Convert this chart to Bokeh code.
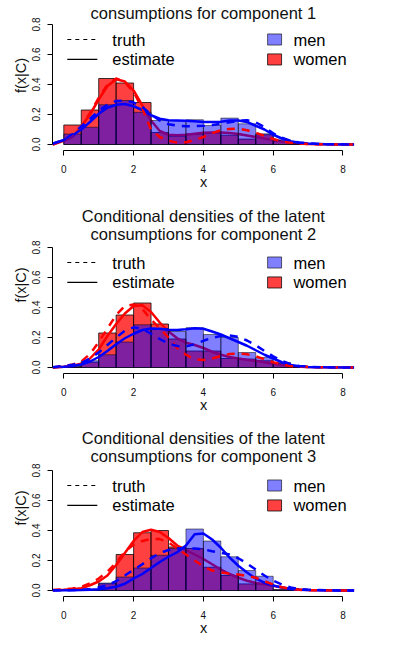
from bokeh.plotting import figure
from bokeh.layouts import column
from bokeh.models import Range1d, FixedTicker, Label, NumeralTickFormatter
from bokeh.embed import file_html
from bokeh.resources import INLINE

# ---------------- data ----------------
EDGES = [0.0, 0.5, 1.0, 1.5, 2.0, 2.5, 3.0, 3.5, 4.0, 4.5, 5.0, 5.5, 6.0, 6.5, 7.0]
X = [-0.32, 0.0, 0.25, 0.5, 0.75, 1.0, 1.25, 1.5, 1.75, 2.0, 2.25, 2.5, 2.75, 3.0,
     3.25, 3.5, 3.75, 4.0, 4.25, 4.5, 4.75, 5.0, 5.25, 5.5, 5.75, 6.0, 6.25, 6.5,
     6.75, 7.0, 7.5, 8.32]
X_TICKS = [0, 2, 4, 6, 8]
Y_TICKS = [0.0, 0.2, 0.4, 0.6, 0.8]

# component 1
men_hist_1 = [0.07, 0.115, 0.265, 0.293, 0.215, 0.16, 0.16, 0.165, 0.127, 0.176, 0.138, 0.071, 0.031, 0.005]
women_hist_1 = [0.13, 0.23, 0.44, 0.41, 0.28, 0.08, 0.055, 0.07, 0.078, 0.062, 0.036, 0.065, 0.02, 0.005]
women_est_1 = [0, 0.025, 0.05, 0.12, 0.2, 0.3, 0.39, 0.435, 0.42, 0.36, 0.26, 0.16, 0.09, 0.065,
               0.062, 0.065, 0.072, 0.078, 0.08, 0.08, 0.076, 0.07, 0.06, 0.05, 0.04, 0.03, 0.02, 0.012,
               0.007, 0.004, 0.001, 0]
women_true_1 = [0, 0.03, 0.065, 0.12, 0.21, 0.31, 0.4, 0.44, 0.415, 0.35, 0.24, 0.1, 0.05, 0.025,
                0.012, 0.015, 0.03, 0.05, 0.075, 0.095, 0.104, 0.105, 0.095, 0.078, 0.058, 0.037, 0.022, 0.012,
                0.006, 0.003, 0.001, 0]
men_est_1 = [0.005, 0.03, 0.06, 0.1, 0.15, 0.205, 0.245, 0.265, 0.27, 0.255, 0.23, 0.195, 0.172, 0.162,
             0.16, 0.158, 0.155, 0.15, 0.15, 0.152, 0.16, 0.16, 0.15, 0.125, 0.1, 0.065, 0.04, 0.022,
             0.012, 0.007, 0.002, 0]
men_true_1 = [0.005, 0.03, 0.07, 0.12, 0.17, 0.225, 0.265, 0.29, 0.293, 0.28, 0.25, 0.2, 0.16, 0.135,
              0.125, 0.122, 0.122, 0.125, 0.13, 0.138, 0.148, 0.158, 0.162, 0.148, 0.115, 0.075, 0.045, 0.025,
              0.013, 0.007, 0.002, 0]

# component 2
men_hist_2 = [0.005, 0.045, 0.085, 0.17, 0.285, 0.26, 0.24, 0.265, 0.22, 0.2, 0.1, 0.067, 0.033, 0.005]
women_hist_2 = [0.005, 0.035, 0.23, 0.35, 0.43, 0.29, 0.19, 0.11, 0.11, 0.06, 0.056, 0.045, 0.027, 0.003]
women_est_2 = [0, 0.005, 0.012, 0.025, 0.06, 0.12, 0.21, 0.29, 0.36, 0.41, 0.415, 0.37, 0.3, 0.24,
               0.195, 0.165, 0.15, 0.13, 0.105, 0.085, 0.07, 0.06, 0.052, 0.045, 0.035, 0.025, 0.017, 0.01,
               0.006, 0.003, 0.001, 0]
women_true_2 = [0, 0.01, 0.02, 0.04, 0.09, 0.17, 0.26, 0.35, 0.41, 0.42, 0.39, 0.32, 0.26, 0.2,
                0.13, 0.085, 0.055, 0.05, 0.06, 0.077, 0.09, 0.093, 0.088, 0.075, 0.055, 0.035, 0.02, 0.01,
                0.005, 0.003, 0.001, 0]
men_est_2 = [0.002, 0.005, 0.01, 0.02, 0.04, 0.07, 0.11, 0.155, 0.195, 0.225, 0.25, 0.26, 0.258, 0.252,
             0.25, 0.255, 0.262, 0.258, 0.24, 0.22, 0.195, 0.17, 0.145, 0.115, 0.085, 0.06, 0.035, 0.017,
             0.009, 0.004, 0.001, 0]
men_true_2 = [0.002, 0.01, 0.018, 0.03, 0.06, 0.1, 0.15, 0.2, 0.245, 0.268, 0.258, 0.225, 0.19, 0.16,
              0.143, 0.14, 0.155, 0.178, 0.198, 0.21, 0.213, 0.205, 0.18, 0.148, 0.11, 0.075, 0.045, 0.022,
              0.01, 0.005, 0.001, 0]

# component 3
men_hist_3 = [0.0, 0.003, 0.05, 0.09, 0.15, 0.235, 0.28, 0.41, 0.33, 0.225, 0.133, 0.095, 0.005, 0.0]
women_hist_3 = [0.0, 0.003, 0.045, 0.24, 0.385, 0.4, 0.29, 0.28, 0.155, 0.1, 0.044, 0.044, 0.005, 0.0]
women_est_3 = [0.002, 0.005, 0.009, 0.015, 0.035, 0.06, 0.1, 0.17, 0.25, 0.33, 0.39, 0.405, 0.39, 0.35,
               0.3, 0.27, 0.24, 0.21, 0.175, 0.14, 0.11, 0.085, 0.065, 0.05, 0.042, 0.032, 0.02, 0.012,
               0.007, 0.004, 0.001, 0]
women_true_3 = [0.003, 0.007, 0.013, 0.025, 0.048, 0.08, 0.125, 0.185, 0.26, 0.305, 0.33, 0.343, 0.343, 0.32,
                0.28, 0.24, 0.2, 0.16, 0.133, 0.12, 0.112, 0.107, 0.097, 0.085, 0.062, 0.04, 0.022, 0.01,
                0.005, 0.002, 0.001, 0]
men_est_3 = [0, 0.001, 0.002, 0.003, 0.005, 0.008, 0.015, 0.025, 0.045, 0.08, 0.11, 0.15, 0.19, 0.225,
             0.255, 0.3, 0.375, 0.38, 0.34, 0.285, 0.22, 0.165, 0.12, 0.08, 0.052, 0.033, 0.02, 0.01,
             0.005, 0.003, 0.001, 0]
men_true_3 = [0.001, 0.002, 0.003, 0.005, 0.01, 0.02, 0.035, 0.062, 0.1, 0.138, 0.175, 0.215, 0.25, 0.27,
              0.28, 0.282, 0.28, 0.275, 0.262, 0.252, 0.24, 0.215, 0.18, 0.14, 0.1, 0.065, 0.04, 0.02,
              0.01, 0.005, 0.001, 0]

TITLES = [
    ["consumptions for component 1"],
    ["Conditional densities of the latent", "consumptions for component 2"],
    ["Conditional densities of the latent", "consumptions for component 3"],
]
LEGEND_LINES = ["truth", "estimate"]
LEGEND_BOXES = ["men", "women"]

FONT = "Liberation Sans"
RED = "#FF0000"
BLUE = "#0000FF"


def make_panel(titles, title_ys, men_h, women_h, men_e, men_t, women_e, women_t,
               height, y_end, border_bottom):
    p = figure(width=385, height=height, output_backend="svg", toolbar_location=None,
               x_range=Range1d(-0.324, 8.33), y_range=Range1d(-0.04, y_end),
               min_border_left=52, min_border_right=31, min_border_top=0,
               min_border_bottom=border_bottom, title=None)
    p.outline_line_color = None
    p.xgrid.visible = False
    p.ygrid.visible = False
    p.background_fill_color = "white"
    p.border_fill_color = "white"

    left = EDGES[:-1]
    right = EDGES[1:]
    # women histogram, women estimate, men histogram, men estimate, truths
    p.quad(left=left, right=right, bottom=0, top=women_h, fill_color=RED, fill_alpha=0.75,
           line_color="black", line_alpha=0.75, line_width=1)
    p.line(X, women_e, line_color=RED, line_width=2.5)
    p.quad(left=left, right=right, bottom=0, top=men_h, fill_color=BLUE, fill_alpha=0.5,
           line_color="black", line_alpha=0.5, line_width=1)
    p.line(X, men_e, line_color=BLUE, line_width=2.5)
    p.line(X, women_t, line_color=RED, line_width=2.5, line_dash="8 7")
    p.line(X, men_t, line_color=BLUE, line_width=2.5, line_dash="8 7")

    # legend (R-style, no box)
    rows = [0.7, 0.567]
    p.segment(x0=0.1, x1=0.96, y0=rows[0], y1=rows[0], line_color="black", line_width=1.2,
              line_dash="4 4")
    p.segment(x0=0.1, x1=0.96, y0=rows[1], y1=rows[1], line_color="black", line_width=1.2)
    p.quad(left=5.84, right=6.24, bottom=rows[0] - 0.037, top=rows[0] + 0.037,
           fill_color=BLUE, fill_alpha=0.5, line_color="black", line_alpha=0.6)
    p.quad(left=5.84, right=6.24, bottom=rows[1] - 0.037, top=rows[1] + 0.037,
           fill_color=RED, fill_alpha=0.75, line_color="black", line_alpha=0.75)
    for txt, yy in zip(LEGEND_LINES, rows):
        p.add_layout(Label(x=1.39, y=yy, text=txt, text_baseline="middle", text_align="left",
                           text_font=FONT, text_font_size="16.5px", text_color="black"))
    for txt, yy in zip(LEGEND_BOXES, rows):
        p.add_layout(Label(x=6.58, y=yy, text=txt, text_baseline="middle", text_align="left",
                           text_font=FONT, text_font_size="16.5px", text_color="black"))
    for txt, yy in zip(titles, title_ys):
        p.add_layout(Label(x=4.0, y=yy, text=txt, text_baseline="middle", text_align="center",
                           text_font=FONT, text_font_size="16.5px", text_color="#111111"))

    for ax in (p.xaxis[0], p.yaxis[0]):
        ax.axis_line_color = "black"
        ax.axis_line_width = 1
        ax.major_tick_line_color = "black"
        ax.major_tick_in = 0
        ax.major_tick_out = 5
        ax.minor_tick_in = 0
        ax.minor_tick_out = 0
        ax.major_label_text_font = FONT
        ax.major_label_text_font_size = "10px"
        ax.major_label_text_color = "#111111"
        ax.axis_label_text_font = FONT
        ax.axis_label_text_font_size = "14.5px"
        ax.axis_label_text_font_style = "normal"
        ax.axis_label_text_color = "#111111"
        ax.major_label_standoff = 8
        ax.axis_label_standoff = 0

    xa = p.xaxis[0]
    xa.bounds = (0, 8)
    xa.ticker = FixedTicker(ticks=X_TICKS)
    xa.axis_label = "x"
    xa.major_label_standoff = 9
    xa.axis_label_standoff = -2

    ya = p.yaxis[0]
    ya.bounds = (0, 0.8)
    ya.ticker = FixedTicker(ticks=Y_TICKS)
    ya.formatter = NumeralTickFormatter(format="0.0")
    ya.major_label_orientation = "vertical"
    ya.axis_label = "f(x|C)"
    return p


p1 = make_panel(TITLES[0], [0.88], men_hist_1, women_hist_1, men_est_1, men_true_1,
                women_est_1, women_true_1, 196, 0.96, 46)
p2 = make_panel(TITLES[1], [1.013, 0.893], men_hist_2, women_hist_2, men_est_2, men_true_2,
                women_est_2, women_true_2, 223, 1.14, 46)
p3 = make_panel(TITLES[2], [1.02, 0.90], men_hist_3, women_hist_3, men_est_3, men_true_3,
                women_est_3, women_true_3, 229, 1.14, 52)

layout = column(p1, p2, p3, spacing=0)
open("out.html", "w").write(file_html(layout, INLINE))
